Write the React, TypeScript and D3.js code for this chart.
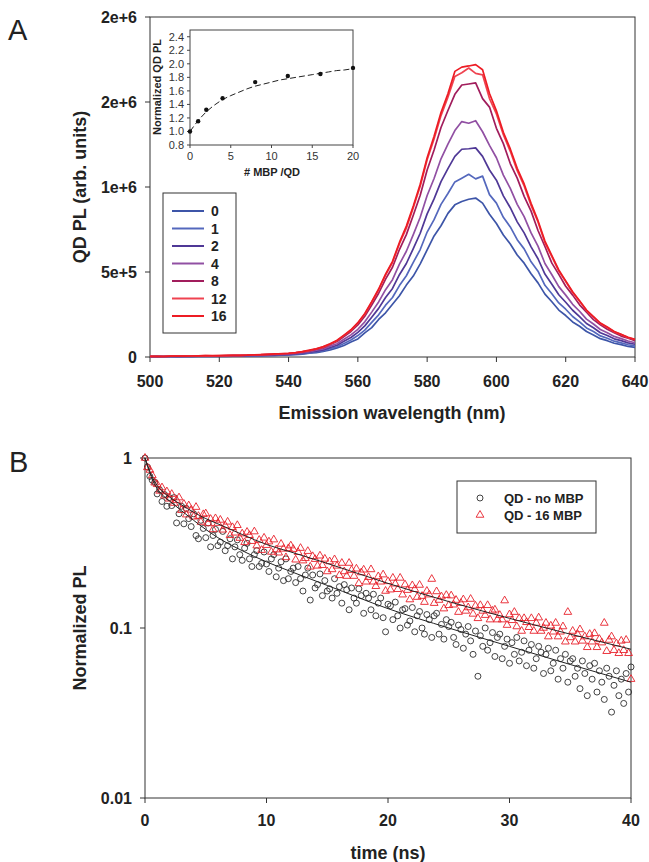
import React from 'react';
import * as d3 from 'd3';

const FONT = '"Liberation Sans", Arial, Helvetica, sans-serif';

// ---- panel A: emission spectra, values in thousands of counts, 500..640 nm every 2 nm
const wavelengths = d3.range(500, 641, 2);
const mbpLabels = ['0', '1', '2', '4', '8', '12', '16'];
const mbpColors = ['#3d55a8', '#5468bd', '#4f3896', '#9150a3', '#a11d5c', '#ef4350', '#ed1c24'];

const spec0 = [2, 2, 3, 3, 2, 3, 4, 4, 3, 4, 5, 4, 5, 6, 7, 6, 8, 8, 9, 11, 12, 14, 17, 22, 26, 33, 41, 54, 68, 88, 106, 142, 173, 221, 260, 310, 360, 423, 476, 548, 630, 712, 772, 845, 895, 915, 928, 935, 905, 840, 785, 718, 665, 600, 552, 490, 436, 370, 325, 276, 244, 206, 181, 150, 130, 108, 96, 81, 73, 62, 57];
const spec1 = [2, 3, 2, 3, 4, 3, 4, 4, 5, 4, 5, 5, 6, 6, 7, 8, 8, 10, 10, 12, 13, 17, 19, 24, 31, 37, 49, 60, 80, 100, 126, 158, 204, 248, 305, 350, 420, 478, 556, 632, 735, 808, 898, 962, 1030, 1052, 1075, 1048, 1064, 955, 905, 822, 765, 690, 636, 560, 505, 422, 372, 318, 281, 238, 207, 171, 150, 124, 110, 93, 83, 72, 65];
const spec2 = [3, 2, 3, 4, 4, 5, 4, 5, 6, 5, 6, 6, 7, 7, 8, 9, 10, 11, 13, 14, 16, 18, 23, 28, 35, 42, 56, 69, 92, 115, 145, 183, 234, 286, 350, 403, 484, 550, 638, 728, 842, 930, 1032, 1108, 1180, 1222, 1225, 1230, 1180, 1100, 1040, 948, 878, 795, 730, 648, 578, 488, 428, 366, 322, 275, 238, 197, 172, 143, 126, 107, 96, 83, 75];
const spec4 = [3, 3, 4, 4, 5, 4, 5, 6, 6, 7, 6, 7, 8, 8, 9, 10, 11, 13, 15, 15, 18, 21, 26, 31, 40, 48, 64, 78, 104, 130, 163, 207, 264, 324, 396, 455, 546, 622, 720, 822, 950, 1050, 1166, 1252, 1332, 1385, 1375, 1390, 1325, 1245, 1172, 1070, 992, 898, 826, 730, 652, 550, 484, 414, 364, 310, 269, 223, 194, 162, 143, 121, 108, 94, 84];
const spec8 = [3, 4, 3, 5, 5, 6, 5, 7, 6, 7, 7, 8, 9, 10, 11, 12, 13, 15, 16, 18, 20, 24, 30, 36, 46, 55, 73, 91, 120, 150, 189, 240, 306, 375, 458, 528, 632, 720, 834, 952, 1100, 1218, 1350, 1450, 1545, 1600, 1606, 1612, 1520, 1470, 1345, 1255, 1138, 1052, 945, 858, 744, 650, 552, 486, 416, 364, 307, 263, 220, 190, 163, 143, 123, 110, 96];
const spec12 = [4, 3, 4, 5, 6, 5, 6, 7, 8, 7, 8, 8, 9, 10, 11, 12, 14, 16, 17, 20, 21, 25, 32, 38, 48, 58, 77, 96, 127, 157, 200, 251, 322, 395, 482, 556, 666, 758, 878, 1004, 1160, 1282, 1420, 1528, 1650, 1672, 1700, 1668, 1660, 1520, 1430, 1308, 1210, 1096, 1006, 892, 794, 672, 590, 505, 444, 379, 328, 273, 236, 197, 174, 148, 132, 114, 103];
const spec16 = [4, 4, 3, 5, 6, 5, 6, 7, 8, 8, 8, 9, 10, 10, 11, 13, 14, 16, 18, 19, 22, 26, 32, 40, 48, 61, 78, 99, 129, 160, 202, 256, 326, 400, 488, 563, 674, 770, 888, 1016, 1172, 1298, 1438, 1548, 1680, 1705, 1712, 1720, 1690, 1550, 1448, 1322, 1224, 1110, 1018, 904, 802, 682, 596, 512, 448, 384, 331, 276, 238, 200, 176, 150, 133, 116, 104];
const spectra = [spec0, spec1, spec2, spec4, spec8, spec12, spec16];

const plTicks = [0, 5e5, 1e6, 1.5e6, 2e6];
const plTickLabels = ['0', '5e+5', '1e+6', '2e+6', '2e+6'];
const wlTicks = [500, 520, 540, 560, 580, 600, 620, 640];

// inset
const insetMbp = [0, 1, 2, 4, 8, 12, 16, 20];
const insetPL = [1.0, 1.15, 1.32, 1.49, 1.73, 1.82, 1.85, 1.94];
const insetFitMbp = [0, 1, 2, 3, 4, 5, 6, 7, 8, 9, 10, 11, 12, 13, 14, 15, 16, 17, 18, 19, 20];
const insetFitPL = [1.0, 1.16, 1.29, 1.39, 1.47, 1.53, 1.58, 1.63, 1.67, 1.7, 1.73, 1.76, 1.78, 1.8, 1.82, 1.84, 1.86, 1.88, 1.9, 1.91, 1.93];
const insetYTicks = [0.8, 1.0, 1.2, 1.4, 1.6, 1.8, 2.0, 2.2, 2.4];
const insetXTicks = [0, 5, 10, 15, 20];

// ---- panel B: decays, values x1000, every 0.2 ns from 0 to 40 ns
const decayTimes = d3.range(0, 201).map((i) => i * 0.2);
const decayNoMbp = [
  1000, 885, 780, 740, 720, 615, 650, 555, 610, 520, 585,
  525, 585, 415, 470, 520, 410, 505, 440, 395, 470,
  350, 335, 430, 385, 340, 415, 300, 350, 380, 305,
  320, 370, 285, 305, 335, 255, 300, 330, 270, 250,
  295, 315, 255, 230, 270, 285, 230, 240, 280, 238,
  215, 255, 270, 200, 225, 245, 190, 255, 195, 215,
  225, 185, 230, 195, 165, 205, 225, 146, 205, 172, 180, 208, 155, 190, 165,
  170, 150, 195, 160, 175, 140, 180, 168, 128, 172, 150, 140, 170, 155, 122, 160, 150, 128, 158, 118, 140, 150, 115, 95, 138,
  135, 112, 142, 118, 100, 128, 130, 104, 110, 132, 95, 118, 125, 100, 92, 120, 112, 88, 118, 122, 92, 105, 86, 112, 102,
  108, 88, 80, 104, 98, 76, 92, 102, 84, 70, 96, 52, 90, 78, 100, 74, 82, 94, 68, 88, 92, 66, 78, 86, 62,
  82, 70, 88, 64, 72, 84, 60, 74, 80, 58, 66, 78, 72, 54, 70, 76, 56, 62, 74, 50, 66, 58, 70, 48, 64,
  66, 52, 58, 44, 64, 54, 40, 60, 50, 62, 42, 56, 48, 38, 58, 52, 32, 46, 56, 40, 50, 36, 54, 42, 59,
];
const decay16Mbp = [
  1000, 880, 850, 790, 715, 700, 640, 670, 600, 635, 575,
  613, 543, 565, 585, 493, 536, 464, 525, 495, 451,
  514, 455, 420, 466, 471, 412, 437, 380, 441, 414,
  432, 378, 400, 421, 351, 391, 363, 402, 338, 359,
  319, 367, 351, 324, 369, 305, 329, 287, 339, 307,
  322, 280, 331, 289, 277, 312, 292, 260, 294, 305,
  291, 252, 279, 295, 249, 257, 283, 229, 264, 254, 232, 266, 234, 255, 215,
  246, 221, 253, 232, 204, 241, 215, 202, 241, 219, 202, 223, 183, 212, 220, 187, 199, 221, 187, 176, 201, 187, 206, 165, 188,
  168, 197, 182, 169, 197, 157, 180, 167, 147, 178, 169, 152, 179, 154, 142, 165, 157, 194, 140, 164, 146, 153, 130, 156, 136,
  155, 137, 146, 124, 140, 147, 126, 132, 148, 121, 135, 114, 136, 126, 119, 136, 112, 126, 128, 112, 119, 112, 145, 104, 120,
  111, 124, 102, 114, 96, 114, 108, 101, 114, 96, 107, 115, 96, 100, 107, 89, 103, 95, 107, 89, 95, 102, 83, 124, 88,
  96, 83, 92, 98, 84, 89, 77, 92, 83, 93, 77, 86, 82, 107, 73, 85, 89, 74, 81, 71, 84, 74, 85, 71, 50,
];
const fitTimes = [0, 0.2, 0.5, 1, 1.5, 2, 3, 4, 5, 6, 8, 10, 12, 15, 20, 25, 30, 35, 40];
const fitNoMbp = [1, 0.9, 0.78, 0.66, 0.6, 0.56, 0.49, 0.43, 0.38, 0.34, 0.285, 0.245, 0.215, 0.178, 0.13, 0.1, 0.078, 0.061, 0.048];
const fit16Mbp = [1, 0.91, 0.8, 0.69, 0.63, 0.59, 0.53, 0.48, 0.44, 0.41, 0.355, 0.31, 0.28, 0.24, 0.183, 0.143, 0.114, 0.092, 0.075];
const timeTicks = [0, 10, 20, 30, 40];
const normTicks = [1, 0.1, 0.01];
const normTickLabels = ['1', '0.1', '0.01'];

const RED = '#e8202a';

export default function App() {
  // panel A scales
  const xA = d3.scaleLinear().domain([500, 640]).range([150, 635]);
  const yA = d3.scaleLinear().domain([0, 2e6]).range([357, 17]);
  const specLine = d3
    .line<number>()
    .x((_, i) => xA(wavelengths[i]))
    .y((v) => yA(v * 1000))
    .curve(d3.curveLinear);

  // inset
  const xI = d3.scaleLinear().domain([0, 20]).range([190, 353]);
  const yI = d3.scaleLinear().domain([0.8, 2.5]).range([145, 30]);
  const insetLine = d3
    .line<number>()
    .x((_, i) => xI(insetFitMbp[i]))
    .y((v) => yI(v))
    .curve(d3.curveMonotoneX);

  // panel B
  const xB = d3.scaleLinear().domain([0, 40]).range([145, 631]);
  const yB = d3.scaleLog().domain([0.01, 1]).range([798, 458]);
  const fitLine = d3
    .line<number>()
    .x((_, i) => xB(fitTimes[i]))
    .y((v) => yB(v))
    .curve(d3.curveMonotoneX);
  const tri = d3.symbol(d3.symbolTriangle, 26)() as string;

  const [a0, a1] = xA.range();
  const [aB, aT] = yA.range();
  const [b0, b1] = xB.range();
  const [bB, bT] = yB.range();

  return (
    <div style={{ position: 'absolute', left: 0, top: 0 }}>
      <svg width={649} height={862} style={{ display: 'block', background: '#fff' }} fontFamily={FONT}>
        {/* ===== Panel A ===== */}
        <text x={8} y={40} fontSize={29} fill="#222">A</text>
        <rect x={a0} y={aT} width={a1 - a0} height={aB - aT} fill="none" stroke="#333" strokeWidth={1} />
        {plTicks.map((t, i) => (
          <g key={'ya' + i}>
            <line x1={a0 - 5} x2={a0} y1={yA(t)} y2={yA(t)} stroke="#333" />
            <text x={137} y={yA(t)} dy="0.36em" textAnchor="end" fontSize={16} fontWeight="bold" fill="#222">
              {plTickLabels[i]}
            </text>
          </g>
        ))}
        {wlTicks.map((t) => (
          <g key={'xa' + t}>
            <line x1={xA(t)} x2={xA(t)} y1={aB} y2={aB + 5} stroke="#333" />
            <text x={xA(t)} y={387} textAnchor="middle" fontSize={16} fontWeight="bold" fill="#222">
              {t}
            </text>
          </g>
        ))}
        <text x={392} y={419} textAnchor="middle" fontSize={18} fontWeight="bold" fill="#222">
          Emission wavelength (nm)
        </text>
        <text transform="translate(86,187) rotate(-90)" textAnchor="middle" fontSize={18} fontWeight="bold" fill="#222">
          QD PL (arb. units)
        </text>

        {spectra.map((s, i) => (
          <path key={'sp' + i} d={specLine(s) || ''} fill="none" stroke={mbpColors[i]} strokeWidth={1.7} strokeLinejoin="round" />
        ))}

        {/* legend A */}
        <rect x={163} y={193} width={73} height={140} fill="#fff" stroke="#333" strokeWidth={1} />
        {mbpLabels.map((l, i) => (
          <g key={'lg' + i}>
            <line x1={172} x2={204} y1={211 + i * 17.5} y2={211 + i * 17.5} stroke={mbpColors[i]} strokeWidth={2} />
            <text x={211} y={211 + i * 17.5} dy="0.36em" fontSize={14} fontWeight="bold" fill="#222">
              {l}
            </text>
          </g>
        ))}

        {/* inset */}
        <rect x={190} y={30} width={163} height={115} fill="#fff" stroke="#444" strokeWidth={1} />
        {insetYTicks.map((t) => (
          <g key={'yi' + t}>
            <line x1={187} x2={190} y1={yI(t)} y2={yI(t)} stroke="#444" />
            <text x={184} y={yI(t)} dy="0.36em" textAnchor="end" fontSize={11} fill="#333">
              {t.toFixed(1)}
            </text>
          </g>
        ))}
        {insetXTicks.map((t) => (
          <g key={'xi' + t}>
            <line x1={xI(t)} x2={xI(t)} y1={145} y2={148} stroke="#444" />
            <text x={xI(t)} y={160} textAnchor="middle" fontSize={11} fill="#333">
              {t}
            </text>
          </g>
        ))}
        <text x={272} y={176} textAnchor="middle" fontSize={11} fontWeight="bold" fill="#222">
          # MBP /QD
        </text>
        <text transform="translate(161,87) rotate(-90)" textAnchor="middle" fontSize={11} fontWeight="bold" fill="#222">
          Normalized QD PL
        </text>
        <path d={insetLine(insetFitPL) || ''} fill="none" stroke="#222" strokeWidth={1} strokeDasharray="6,3" />
        {insetMbp.map((m, i) => (
          <circle key={'ip' + i} cx={xI(m)} cy={yI(insetPL[i])} r={2.2} fill="#111" />
        ))}

        {/* ===== Panel B ===== */}
        <text x={9} y={472} fontSize={29} fill="#222">B</text>
        <rect x={b0} y={bT} width={b1 - b0} height={bB - bT} fill="none" stroke="#333" strokeWidth={1} />
        {normTicks.map((t, i) => (
          <g key={'yb' + i}>
            <line x1={b0 - 5} x2={b0} y1={yB(t)} y2={yB(t)} stroke="#333" />
            <text x={132} y={yB(t)} dy="0.36em" textAnchor="end" fontSize={16} fontWeight="bold" fill="#222">
              {normTickLabels[i]}
            </text>
          </g>
        ))}
        {timeTicks.map((t) => (
          <g key={'xb' + t}>
            <line x1={xB(t)} x2={xB(t)} y1={bB} y2={bB + 5} stroke="#333" />
            <text x={xB(t)} y={826} textAnchor="middle" fontSize={16} fontWeight="bold" fill="#222">
              {t}
            </text>
          </g>
        ))}
        <text x={388} y={859} textAnchor="middle" fontSize={18} fontWeight="bold" fill="#222">
          time (ns)
        </text>
        <text transform="translate(86,628) rotate(-90)" textAnchor="middle" fontSize={18} fontWeight="bold" fill="#222">
          Normalized PL
        </text>

        {decayNoMbp.map((v, i) => (
          <circle key={'c' + i} cx={xB(decayTimes[i])} cy={yB(v / 1000)} r={3} fill="none" stroke="#222" strokeWidth={0.85} />
        ))}
        {decay16Mbp.map((v, i) => (
          <path key={'t' + i} d={tri} transform={`translate(${xB(decayTimes[i])},${yB(v / 1000)})`} fill="none" stroke={RED} strokeWidth={0.9} />
        ))}
        <path d={fitLine(fitNoMbp) || ''} fill="none" stroke="#222" strokeWidth={1} />
        <path d={fitLine(fit16Mbp) || ''} fill="none" stroke="#222" strokeWidth={1} />

        {/* legend B */}
        <rect x={457} y={481} width={139} height={52} fill="#fff" stroke="#333" strokeWidth={1} />
        <circle cx={480} cy={498} r={3} fill="none" stroke="#222" strokeWidth={0.85} />
        <text x={504} y={498} dy="0.36em" fontSize={13} fontWeight="bold" fill="#222">QD - no MBP</text>
        <path d={tri} transform="translate(480,515)" fill="none" stroke={RED} strokeWidth={0.9} />
        <text x={504} y={515} dy="0.36em" fontSize={13} fontWeight="bold" fill="#222">QD - 16 MBP</text>
      </svg>
    </div>
  );
}
